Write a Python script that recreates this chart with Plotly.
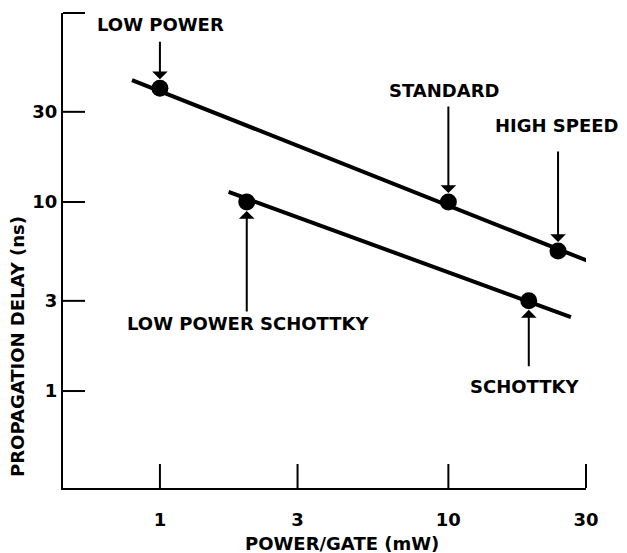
import plotly.graph_objects as go
import math

# Data
families = ["LOW POWER", "STANDARD", "HIGH SPEED", "LOW POWER SCHOTTKY", "SCHOTTKY"]
power_mw = [1, 10, 24, 2, 19]
delay_ns = [40, 10, 5.5, 10, 3]

# Trend lines (end points)
ttl_line_x = [0.80, 31.7]
ttl_line_y = [44.2, 4.76]
schottky_line_x = [1.73, 26.6]
schottky_line_y = [11.3, 2.46]

x_ticks = [1, 3, 10, 30]
x_tick_labels = ["1", "3", "10", "30"]
y_ticks = [1, 3, 10, 30, 100]
y_tick_labels = ["1", "3", "10", "30", ""]

FONT = "DejaVu Sans, Liberation Sans, Arial, sans-serif"
LABEL_SIZE = 18

X_RANGE = [-0.336, math.log10(30)]
Y_RANGE = [-0.513, 2.0]

fig = go.Figure()
fig.add_trace(go.Scatter(x=ttl_line_x, y=ttl_line_y, mode="lines",
                         line=dict(color="black", width=4), showlegend=False))
fig.add_trace(go.Scatter(x=schottky_line_x, y=schottky_line_y, mode="lines",
                         line=dict(color="black", width=4), showlegend=False))
fig.add_trace(go.Scatter(x=power_mw, y=delay_ns, mode="markers",
                         marker=dict(color="black", size=17), showlegend=False))

# label offsets (pixels): text shift and arrow tail offset
label_cfg = {
    "LOW POWER": dict(xs=1, ys=64, ay=-48),
    "STANDARD": dict(xs=-4, ys=112, ay=-97),
    "HIGH SPEED": dict(xs=-1, ys=126, ay=-101),
    "LOW POWER SCHOTTKY": dict(xs=1, ys=-121, ay=111),
    "SCHOTTKY": dict(xs=-4, ys=-86, ay=67),
}

for name, px, py in zip(families, power_mw, delay_ns):
    c = label_cfg[name]
    fig.add_annotation(x=math.log10(px), y=math.log10(py), xref="x", yref="y",
                       text="", showarrow=True, ax=0, ay=c["ay"],
                       arrowhead=1, arrowsize=1.3, arrowwidth=2, arrowcolor="black",
                       standoff=9)
    fig.add_annotation(x=math.log10(px), y=math.log10(py), xref="x", yref="y",
                       text="<b>" + name + "</b>", showarrow=False,
                       xshift=c["xs"], yshift=c["ys"],
                       xanchor="center", yanchor="middle",
                       font=dict(family=FONT, size=LABEL_SIZE, color="black"))

# inside tick marks (drawn as shapes so the end ticks at 30 and 100 are kept)
for v in x_ticks:
    frac = (math.log10(v) - X_RANGE[0]) / (X_RANGE[1] - X_RANGE[0])
    fig.add_shape(type="line", xref="paper", yref="paper", x0=frac, x1=frac,
                  ysizemode="pixel", yanchor=0, y0=0, y1=24,
                  line=dict(color="black", width=2))
for v in y_ticks:
    frac = (math.log10(v) - Y_RANGE[0]) / (Y_RANGE[1] - Y_RANGE[0])
    fig.add_shape(type="line", xref="paper", yref="paper", y0=frac, y1=frac,
                  xsizemode="pixel", xanchor=0, x0=0, x1=22,
                  line=dict(color="black", width=2))

# axis titles
fig.add_annotation(x=0.533, y=-0.116, xref="paper", yref="paper",
                   xanchor="center", yanchor="middle",
                   text="<b>POWER/GATE (mW)</b>", showarrow=False,
                   font=dict(family=FONT, size=LABEL_SIZE, color="black"))
fig.add_annotation(x=-0.086, y=0.297, xref="paper", yref="paper",
                   xanchor="center", yanchor="middle",
                   text="<b>PROPAGATION DELAY (ns)</b>", showarrow=False, textangle=-90,
                   font=dict(family=FONT, size=LABEL_SIZE, color="black"))

# page body has an 8px margin: size the figure so the plot area lands in place
fig.update_layout(
    width=619, height=545,
    margin=dict(l=55, r=41, t=5, b=65),
    paper_bgcolor="white", plot_bgcolor="white",
    showlegend=False,
)
fig.update_xaxes(type="log", range=X_RANGE,
                 tickvals=x_ticks, ticktext=["<b>%s</b>" % t for t in x_tick_labels],
                 ticks="", ticklabelstandoff=14,
                 showline=True, linecolor="black", linewidth=2,
                 showgrid=False, zeroline=False,
                 tickfont=dict(family=FONT, size=18, color="black"))
fig.update_yaxes(type="log", range=Y_RANGE,
                 tickvals=y_ticks, ticktext=["<b>%s</b>" % t if t else "" for t in y_tick_labels],
                 ticks="",
                 showline=True, linecolor="black", linewidth=2,
                 showgrid=False, zeroline=False,
                 tickfont=dict(family=FONT, size=18, color="black"))

fig.write_html("out.html")
